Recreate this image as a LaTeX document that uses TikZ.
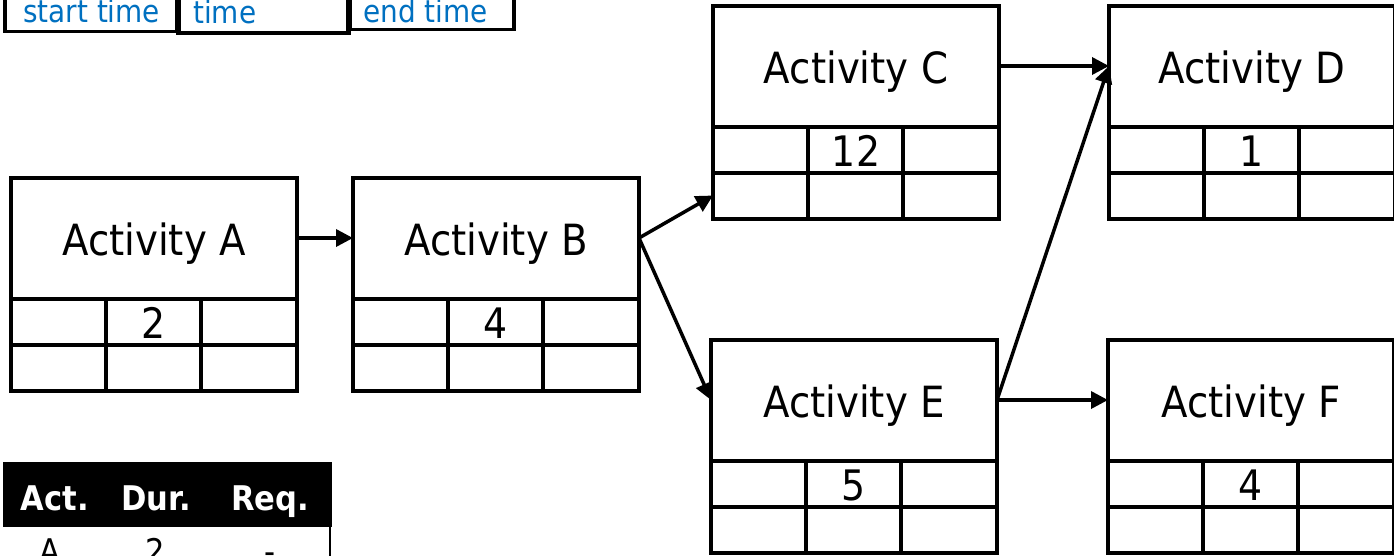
\documentclass[tikz,border=0pt]{standalone}
\usepackage{fontspec}
\setmainfont{DejaVu Sans}[FakeStretch=0.9]
\usetikzlibrary{arrows.meta,calc,positioning}
\definecolor{keyblue}{RGB}{0,112,192}

\begin{document}
\begin{tikzpicture}[x=1pt, y=-1pt,
  activity/.style = {rectangle, draw, line width=4pt, minimum width=286pt, minimum height=121pt, inner sep=0pt, outer sep=0pt, text height=35pt, text depth=0pt, font=\fontsize{43}{43}\selectfont},
  cell/.style     = {draw, line width=4pt},
  dur/.style      = {anchor=base, inner sep=0pt, font=\fontsize{42}{42}\selectfont},
  link/.style     = {line width=3.5pt, -{Triangle[length=17pt, width=17pt]}},
  keybox/.style   = {rectangle, draw, line width=3.5pt, anchor=south west, inner sep=0pt, minimum height=60pt},
  keytext/.style  = {anchor=base west, keyblue, inner sep=0pt, font=\fontsize{31}{31}\selectfont},
  head/.style     = {anchor=base, white, inner sep=0pt, font=\bfseries\fontsize{34}{34}\selectfont},
  cellt/.style    = {anchor=base, inner sep=0pt, font=\fontsize{34}{34}\selectfont},
  ]
  \clip (0,0) rectangle (1394,555);
  % activities
  \node[activity] (A) at (154,238) {Activity A};
  \node[activity, right=56pt of A] (B) {Activity B};
  \node[activity] (C) at (856,66) {Activity C};
  \node[activity, right=110pt of C] (D) {Activity D};
  \node[activity] (E) at (854,400) {Activity E};
  \node[activity, right=111pt of E] (F) {Activity F};
  % time cells below each activity
  \foreach \n/\d in {A/2, B/4, C/12, D/1, E/5, F/4} {
    \draw[cell] (\n.south west) rectangle ++(286,92);
    \draw[cell] ($(\n.south west)+(0,46)$) -- ++(286,0);
    \draw[cell] ($(\n.south west)+(95,0)$) -- ++(0,92);
    \draw[cell] ($(\n.south west)+(190,0)$) -- ++(0,92);
    \node[dur] (\n-dur) at ($(\n.south)+(0,40)$) {\d};
    \coordinate (\n-r2) at ($(\n.south west)+(0,69)$);
  }
  % links
  \draw[link] (A) -- (B);
  \draw[link] (B.east) -- (C-r2);
  \draw[link] (B.east) -- (E.west);
  \draw[link] (C) -- (D);
  \draw[link] (E.east) -- (D.west);
  \draw[link] (E) -- (F);
  % key
  \node[keybox, minimum width=172pt] (kS) at (3,33) {};
  \node[keybox, minimum width=170pt, line width=4.5pt] (kD) at (176,35) {};
  \node[keybox, minimum width=164pt] (kE) at (348,31) {};
  \node[keytext] (kSt) at (23,22) {start time};
  \node[keytext] (kDt) at (193,23) {time};
  \node[keytext] (kEt) at (363,22) {end time};
  % table
  \node[fill=black, minimum width=329pt, minimum height=65pt, inner sep=0pt, anchor=north west] (thead) at (3,462) {};
  \node[head] (hAct) at (55,510) {Act.};
  \node[head] (hDur) at (156,510) {Dur.};
  \node[head] (hReq) at (270,510) {Req.};
  \draw[line width=2pt] (330,527) -- (330,560);
  \node[cellt] (rA) at (50,563) {A};
  \node[cellt] (rB) at (155,563) {2};
  \node[cellt] (rC) at (270,563) {-};
\end{tikzpicture}
\end{document}
